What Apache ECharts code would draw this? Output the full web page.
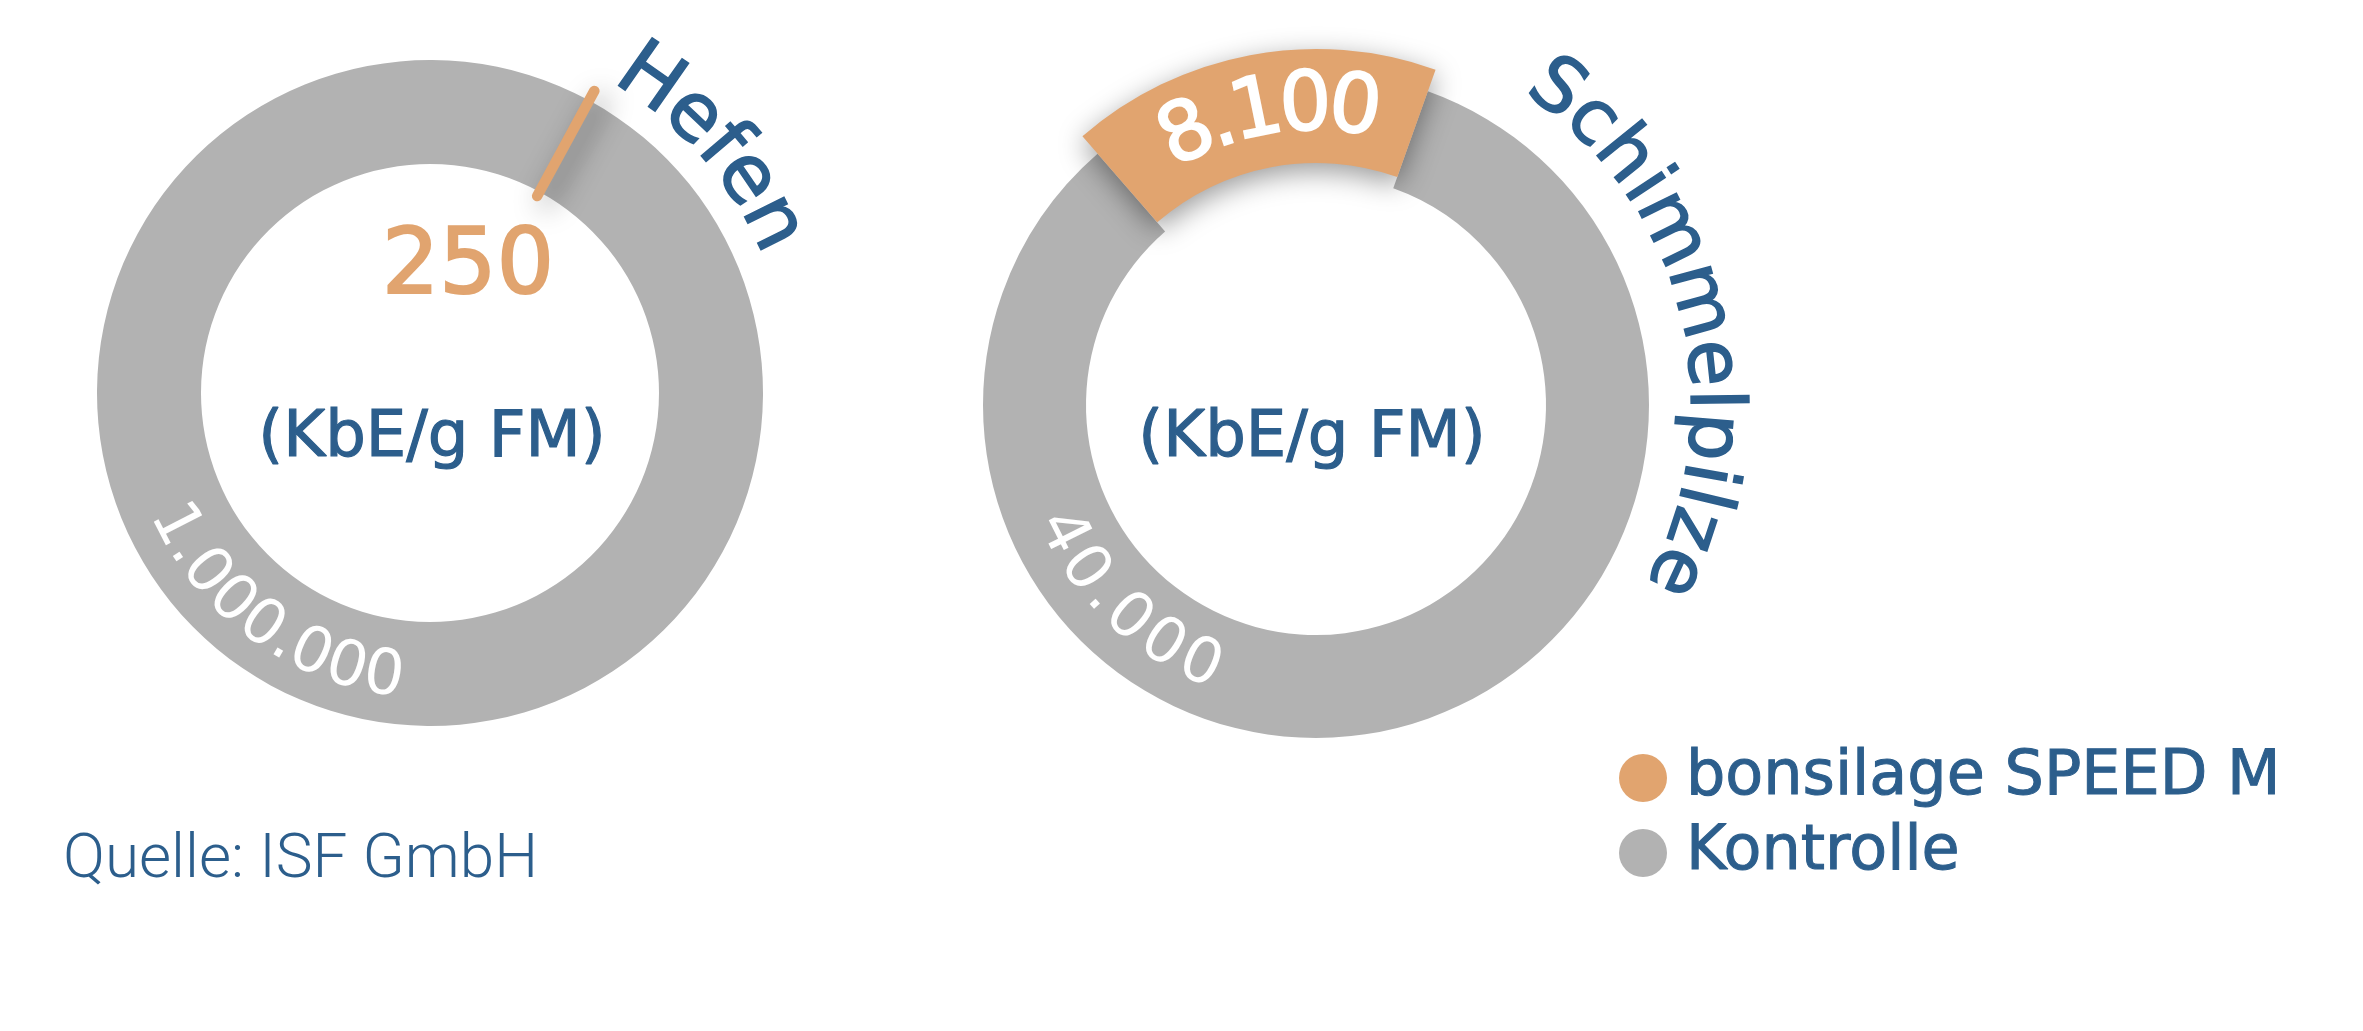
<!DOCTYPE html>
<html><head><meta charset="utf-8">
<script src="https://cdn.jsdelivr.net/npm/echarts@6/dist/echarts.min.js"></script>
<style>html,body{margin:0;padding:0;background:#fff}#c{width:2363px;height:1031px}</style>
</head><body><div id="c"></div>
<script>
// ---- data ----
const groups = ['Hefen', 'Schimmelpilze'];
const seriesNames = ['bonsilage SPEED M', 'Kontrolle'];
const treatedValues = [250, 8100];
const controlValues = [1000000, 40000];
const unitLabel = '(KbE/g FM)';
const sourceNote = 'Quelle: ISF GmbH';

// ---- style ----
const BLUE = '#2C5E8C', ORANGE = '#E1A46F', GREY = '#B2B2B2';
const FAM = '"DejaVu Sans", "Noto Sans", sans-serif';
const layout = [
  { center: [430, 393], ring: [229, 333], accent: [224, 344], startAngle: 61.5, accentBorder: 10,
    title: { r: 381, mid: 49, size: 80, spacing: 2 },
    ctrl: { r: 288, mid: 216, size: 63, spacing: -1.5 },
    treat: { horizontal: true, x: 468, y: 270, size: 90 },
    unit: [432, 439] },
  { center: [1316, 405], ring: [230, 333], accent: [242, 356], startAngle: 131, accentBorder: 0,
    title: { r: 395, mid: 76, size: 76, spacing: 2.5 },
    ctrl: { r: 285, mid: 223.7, size: 63, spacing: 3 },
    treat: { horizontal: false, r: 297, mid: -9, size: 82, spacing: -2.9 },
    unit: [1312, 439] }
];

const fmt = n => String(n).replace(/\B(?=(\d{3})+(?!\d))/g, '.');
const mctx = document.createElement('canvas').getContext('2d');

function arcText(text, o) {
  const font = `${o.weight || 'normal'} ${o.size}px ${FAM}`;
  mctx.font = font;
  const chars = Array.from(text);
  const w = chars.map(c => mctx.measureText(c).width);
  const pos = []; let s = 0;
  chars.forEach((c, i) => { pos.push(s + w[i] / 2); s += w[i] + (i < chars.length - 1 ? o.spacing : 0); });
  const total = s;
  return chars.map((c, i) => {
    const off = (pos[i] - total / 2) / o.r;
    const th = o.mid * Math.PI / 180 + (o.inward ? -off : off);
    return {
      type: 'text', silent: true, z: 100,
      x: o.cx + o.r * Math.sin(th), y: o.cy - o.r * Math.cos(th),
      rotation: o.inward ? -(th + Math.PI) : -th,
      style: { text: c, font: font, fill: o.color, stroke: o.stroke ? o.color : null, lineWidth: o.stroke || 0,
               align: 'center', verticalAlign: 'middle', textAlign: 'center', textVerticalAlign: 'middle' }
    };
  });
}

const series = [];
const graphics = [];
groups.forEach((g, i) => {
  const L = layout[i];
  // base ring (Kontrolle)
  series.push({
    type: 'pie', name: g + ' Kontrolle', center: L.center, radius: L.ring, startAngle: L.startAngle,
    clockwise: true, silent: true, label: { show: false }, labelLine: { show: false },
    itemStyle: { borderWidth: 0 },
    data: [
      { name: seriesNames[0], value: treatedValues[i], itemStyle: { color: 'rgba(0,0,0,0)' } },
      { name: seriesNames[1], value: controlValues[i], itemStyle: { color: GREY } }
    ]
  });
  // accent (bonsilage SPEED M)
  series.push({
    type: 'pie', name: g + ' bonsilage', center: L.center, radius: L.accent, startAngle: L.startAngle,
    clockwise: true, silent: true, label: { show: false }, labelLine: { show: false },
    data: [
      { name: seriesNames[0], value: treatedValues[i], itemStyle: {
          color: ORANGE, borderColor: ORANGE, borderWidth: L.accentBorder, borderJoin: 'round', borderCap: 'round',
          shadowBlur: 28, shadowColor: 'rgba(0,0,0,0.4)', shadowOffsetX: i === 0 ? 8 : 0, shadowOffsetY: 8 } },
      { name: seriesNames[1], value: controlValues[i], itemStyle: { color: 'rgba(0,0,0,0)', borderWidth: 0 } }
    ]
  });
  const [cx, cy] = L.center;
  graphics.push(...arcText(g, { cx, cy, r: L.title.r, mid: L.title.mid, size: L.title.size,
    spacing: L.title.spacing, color: BLUE, weight: 'normal', stroke: 1.6 }));
  graphics.push(...arcText(fmt(controlValues[i]), { cx, cy, r: L.ctrl.r, mid: L.ctrl.mid, size: L.ctrl.size,
    spacing: L.ctrl.spacing, color: '#ffffff', weight: 'normal', inward: true }));
  if (L.treat.horizontal) {
    graphics.push({ type: 'text', silent: true, z: 100, x: L.treat.x, y: L.treat.y,
      style: { text: fmt(treatedValues[i]), font: `normal ${L.treat.size}px ${FAM}`, fill: ORANGE,
        stroke: ORANGE, lineWidth: 2.2,
        align: 'center', verticalAlign: 'middle', textAlign: 'center', textVerticalAlign: 'middle' } });
  } else {
    graphics.push(...arcText(fmt(treatedValues[i]), { cx, cy, r: L.treat.r, mid: L.treat.mid, size: L.treat.size,
      spacing: L.treat.spacing, color: '#ffffff', weight: 'normal', stroke: 2 }));
  }
  graphics.push({ type: 'text', silent: true, z: 100, x: L.unit[0], y: L.unit[1],
    style: { text: unitLabel, font: `normal 64px ${FAM}`, fill: BLUE, stroke: BLUE, lineWidth: 1.2,
      align: 'center', verticalAlign: 'middle', textAlign: 'center', textVerticalAlign: 'middle' } });
});
graphics.push({ type: 'text', silent: true, z: 100, x: 63, y: 861,
  style: { text: sourceNote, font: `300 62px Roboto, ${FAM}`, fill: BLUE,
    align: 'left', verticalAlign: 'middle', textAlign: 'left', textVerticalAlign: 'middle' } });

const chart = echarts.init(document.getElementById('c'), null, { renderer: 'canvas' });
chart.setOption({
  backgroundColor: '#ffffff',
  animation: false,
  legend: {
    orient: 'vertical', left: 1614, top: 738, icon: 'circle', itemWidth: 48, itemHeight: 48, itemGap: 5,
    selectedMode: false,
    data: [
      { name: seriesNames[0], itemStyle: { color: ORANGE } },
      { name: seriesNames[1], itemStyle: { color: GREY } }
    ],
    textStyle: { color: BLUE, fontSize: 62, fontFamily: FAM, lineHeight: 70, padding: [0, 0, 0, 14],
      textBorderColor: BLUE, textBorderWidth: 1 }
  },
  series: series,
  graphic: { elements: graphics }
});
</script>
</body></html>
